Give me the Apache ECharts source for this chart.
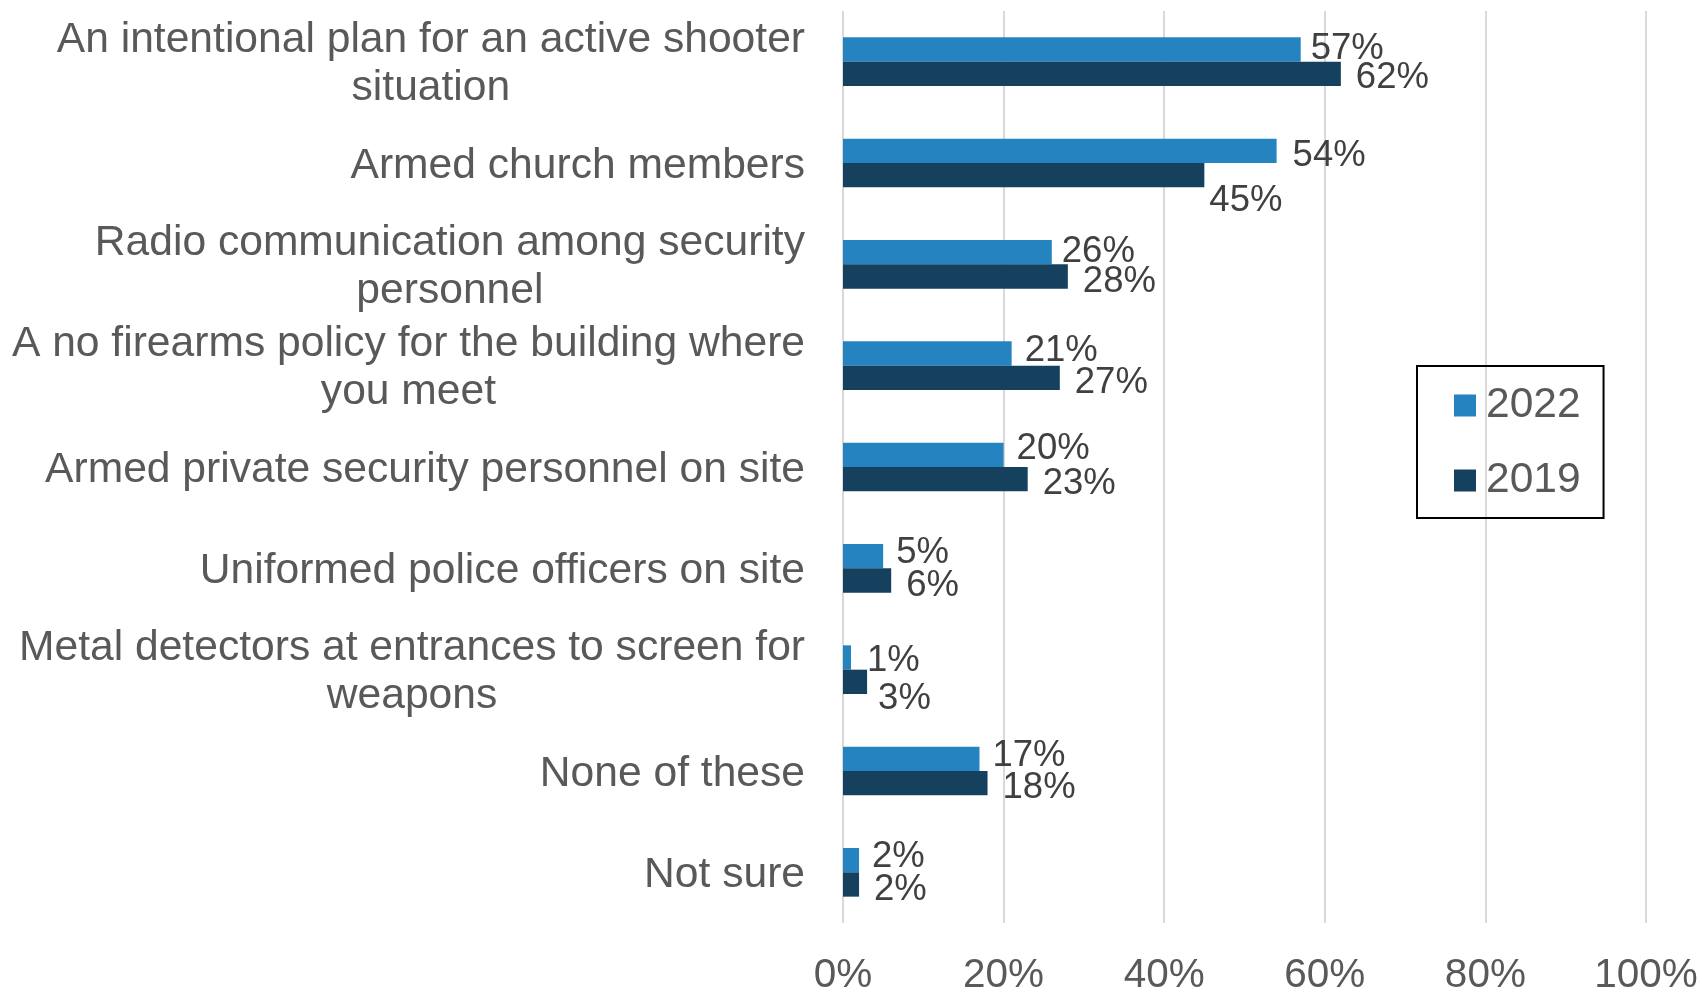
<!DOCTYPE html>
<html>
<head>
<meta charset="utf-8">
<script src="https://cdn.jsdelivr.net/npm/echarts@6/dist/echarts.min.js"></script>
<style>
html,body{margin:0;padding:0;background:#fff;}
#chart{width:1702px;height:993px;}
</style>
</head>
<body>
<div id="chart"></div>
<script>
const categories = [
  'An intentional plan for an active shooter\nsituation',
  'Armed church members',
  'Radio communication among security\npersonnel',
  'A no firearms policy for the building where\nyou meet',
  'Armed private security personnel on site',
  'Uniformed police officers on site',
  'Metal detectors at entrances to screen for\nweapons',
  'None of these',
  'Not sure'
];
const seriesNames = ['2022', '2019'];
const values2022 = [57, 54, 26, 21, 20, 5, 1, 17, 2];
const values2019 = [62, 45, 28, 27, 23, 6, 3, 18, 2];
const xTicks = [0, 20, 40, 60, 80, 100];

const FONT = "'Liberation Sans', Arial, sans-serif";
const chart = echarts.init(document.getElementById('chart'), null, {renderer: 'canvas'});

function buildData(values, tweaks) {
  return values.map((v, i) => tweaks[i] ? {value: v, label: tweaks[i]} : v);
}

const option = {
  backgroundColor: '#ffffff',
  animation: false,
  textStyle: {fontFamily: FONT},
  grid: {left: 843, right: 56, top: 11, bottom: 70, containLabel: false, outerBoundsMode: 'none'},
  legend: {
    orient: 'vertical',
    left: 1417,
    top: 366,
    padding: [18, 23, 16, 37],
    itemGap: 32,
    itemWidth: 22,
    itemHeight: 22,
    icon: 'rect',
    borderColor: '#000000',
    borderWidth: 2,
    data: seriesNames,
    textStyle: {fontSize: 42.5, color: '#595959', fontFamily: FONT, padding: [4, 0, 0, 5]}
  },
  xAxis: {
    type: 'value',
    min: xTicks[0],
    max: xTicks[xTicks.length - 1],
    interval: xTicks[1] - xTicks[0],
    axisLine: {show: false},
    axisTick: {show: false},
    splitLine: {show: true, lineStyle: {color: '#D9D9D9', width: 2}},
    axisLabel: {
      formatter: '{value}%',
      fontSize: 40.5,
      color: '#595959',
      fontFamily: FONT,
      margin: 32
    }
  },
  yAxis: {
    type: 'category',
    inverse: true,
    data: categories,
    axisLine: {show: false},
    axisTick: {show: false},
    axisLabel: {
      margin: 38,
      padding: [6, 0, 0, 0],
      formatter: v => '{c|' + v + '}',
      rich: {
        c: {align: 'center', fontSize: 42.6, lineHeight: 48, color: '#595959', fontFamily: FONT}
      }
    }
  },
  series: [
    {
      name: seriesNames[0],
      type: 'bar',
      barGap: '0%',
      barCategoryGap: '52%',
      itemStyle: {color: '#2584c0'},
      label: {
        show: true, position: 'right', distance: 13, offset: [0, -3],
        formatter: '{c}%', fontSize: 36.5, color: '#404040', fontFamily: FONT
      },
      data: buildData(values2022, {
        0: {distance: 10, offset: [0, -1]},
        1: {distance: 16, offset: [0, 5]},
        2: {distance: 10, offset: [0, 0]},
        4: {offset: [0, -6]},
        6: {distance: 16, offset: [0, 3]}
      })
    },
    {
      name: seriesNames[1],
      type: 'bar',
      barGap: '0%',
      barCategoryGap: '52%',
      itemStyle: {color: '#15415f'},
      label: {
        show: true, position: 'right', distance: 15, offset: [0, 5],
        formatter: '{c}%', fontSize: 36.5, color: '#404040', fontFamily: FONT
      },
      data: buildData(values2019, {
        0: {offset: [0, 4]},
        1: {offset: [-10, 26]},
        6: {offset: [-4, 17]}
      })
    }
  ]
};
chart.setOption(option);
</script>
</body>
</html>
